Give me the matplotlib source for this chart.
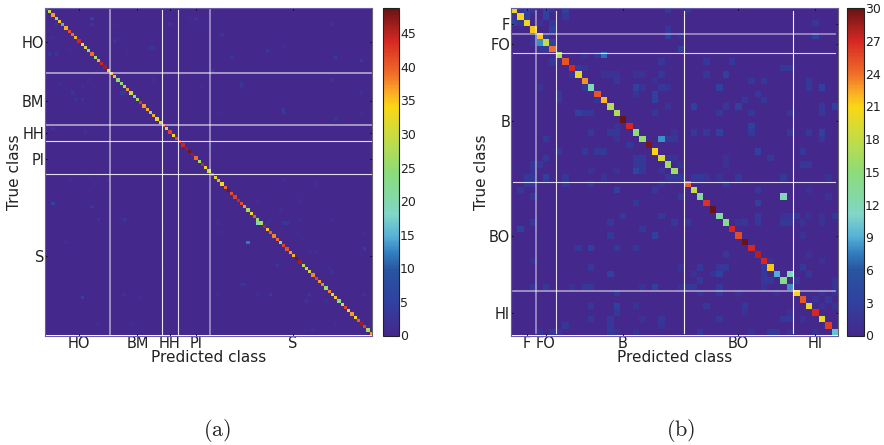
import numpy as np
import matplotlib
matplotlib.use("Agg")
import matplotlib.pyplot as plt
from matplotlib.colors import LinearSegmentedColormap

plt.rcParams['mathtext.fontset'] = 'cm'

W, H = 884, 445

# ---- (a) 101 classes
groups_a = ["HO", "BM", "HH", "PI", "S"]
sizes_a = [20, 16, 5, 10, 50]
diag_a = [43, 30, 37, 22, 35, 15, 36, 41, 39, 36, 44, 34, 30, 20, 39, 27, 36, 44, 46, 31,
          36, 35, 24, 25, 27, 37, 30, 20, 27, 43, 37, 36, 25, 36, 33, 32,
          42, 30, 42, 34, 42,
          43, 44, 46, 48, 46, 39, 27, 44, 33, 30,
          41, 32, 36, 34, 39, 48, 41, 42, 44, 41, 37, 27, 34, 40, 26, 27, 45, 35, 40, 38,
          39, 21, 42, 41, 37, 36, 48, 46, 27, 35, 30, 38, 42, 37, 38, 26, 38, 31, 35, 24,
          31, 42, 33, 37, 34, 40, 46, 42, 27, 37]
# row, col, count
off_a = [(3, 14, 6), (5, 14, 3), (5, 3, 3), (5, 21, 2), (5, 38, 3), (3, 44, 2), (3, 46, 3), (10, 21, 3),
         (14, 1, 3), (14, 3, 3), (13, 7, 2), (13, 25, 2), (12, 32, 3), (12, 33, 3), (9, 2, 2), (23, 4, 2),
         (22, 13, 2), (24, 11, 2), (26, 8, 3), (28, 9, 3), (28, 11, 3), (26, 23, 3), (26, 24, 3), (22, 33, 2),
         (24, 48, 2), (37, 2, 3), (38, 12, 2), (19, 51, 4), (53, 7, 2), (53, 16, 2), (54, 15, 2), (51, 12, 2),
         (8, 54, 3), (15, 57, 3), (13, 68, 4), (12, 73, 2), (5, 88, 3), (15, 89, 4), (16, 97, 4), (23, 60, 3),
         (24, 60, 3), (22, 88, 3), (26, 97, 2), (31, 73, 4), (32, 73, 4), (32, 53, 2), (34, 89, 3), (32, 97, 2),
         (42, 50, 2), (53, 19, 2), (51, 18, 2), (60, 2, 6), (61, 14, 3), (65, 16, 3), (65, 24, 4), (68, 36, 2),
         (72, 6, 2), (81, 36, 2), (89, 11, 6), (88, 24, 3), (89, 29, 2), (97, 16, 2), (97, 26, 2), (53, 73, 2),
         (54, 83, 2), (54, 100, 2), (59, 65, 2), (59, 78, 2), (62, 72, 2), (66, 53, 2), (65, 69, 2), (66, 68, 2),
         (66, 73, 3), (66, 74, 3), (65, 78, 2), (65, 88, 2), (69, 53, 2), (69, 98, 2), (72, 62, 12), (71, 79, 2),
         (75, 81, 2), (75, 83, 2), (74, 98, 4), (79, 71, 3), (80, 87, 2), (81, 88, 3), (85, 60, 3), (85, 61, 3),
         (88, 53, 2), (88, 65, 2), (88, 69, 4), (88, 81, 3), (88, 98, 3), (90, 80, 3), (90, 86, 2), (97, 89, 2),
         (99, 82, 2), (66, 65, 20)]

# ---- (b) 51 classes
groups_b = ["F", "FO", "B", "BO", "HI"]
sizes_b = [4, 3, 20, 17, 7]
diag_b = [20, 21, 20.5, 21.5, 21.5, 18, 24, 17, 25, 27, 20, 23, 12, 25, 22, 17, 17, 30, 27, 15,
          15.5, 29.5, 21, 19, 16, 16, 2, 24.5, 18, 13, 26.5, 30, 13, 14, 27, 25.5, 30, 27, 28, 27,
          21.5, 9, 14, 8, 20.5, 25, 20, 27, 20, 26, 10]
off_b = [(0, 1, 1.5), (0, 2, 3), (0, 3, 1.5), (0, 5, 3), (0, 6, 1.5), (0, 8, 3), (0, 24, 2), (0, 27, 2), (1, 0, 1.5), (1, 2, 3),
         (1, 5, 3), (1, 8, 2), (2, 0, 3), (2, 1, 2), (2, 4, 1.5), (2, 6, 2), (2, 47, 2), (3, 6, 3), (3, 24, 2), (4, 3, 1.5),
         (4, 5, 2), (4, 24, 3), (4, 26, 1.5), (4, 47, 3), (5, 3, 1.5), (5, 4, 8), (5, 6, 3), (6, 4, 2), (6, 5, 2), (6, 26, 3),
         (7, 11, 1.5), (7, 13, 2), (7, 14, 7), (8, 6, 2), (8, 23, 2), (8, 30, 2), (8, 34, 2), (9, 10, 2), (9, 11, 1.5),
         (9, 42, 2), (9, 43, 2), (10, 9, 2), (10, 14, 1.5), (10, 15, 1.5), (10, 16, 1.5), (10, 19, 1.5), (10, 20, 1.5), (10, 23, 2),
         (10, 30, 2), (10, 33, 3), (11, 16, 2), (11, 22, 1.5), (11, 37, 2), (11, 39, 2), (11, 46, 2), (12, 4, 1.5), (12, 11, 2),
         (12, 19, 3), (12, 20, 1.5), (12, 23, 2), (12, 24, 1.5), (12, 32, 3), (12, 46, 2), (12, 48, 3), (13, 7, 2), (13, 19, 1.5),
         (13, 22, 3), (13, 38, 2), (14, 7, 2), (14, 13, 1.5), (14, 22, 3), (14, 36, 2), (14, 39, 2), (15, 24, 1.5), (15, 28, 3),
         (15, 33, 2), (15, 35, 3), (15, 48, 2), (15, 50, 3), (16, 10, 3), (16, 11, 2), (16, 12, 2), (16, 22, 2), (16, 32, 2),
         (16, 37, 2), (16, 43, 2), (16, 48, 2), (18, 16, 1.5), (18, 37, 3), (19, 12, 2), (19, 15, 2), (19, 16, 2), (19, 25, 1.5),
         (19, 28, 2), (19, 30, 2), (19, 32, 3), (19, 37, 2), (19, 43, 2), (19, 46, 2), (19, 48, 3), (20, 5, 2), (20, 16, 1.5),
         (20, 23, 8), (20, 24, 2), (20, 25, 2), (20, 48, 2), (21, 18, 2), (22, 7, 2), (22, 11, 2), (22, 13, 2), (22, 14, 2),
         (22, 38, 3), (22, 45, 2), (23, 5, 2), (23, 19, 2), (23, 20, 2), (23, 24, 1.5), (23, 25, 1.5), (23, 33, 1.5), (23, 40, 2),
         (24, 3, 2), (24, 4, 2), (24, 19, 2), (24, 20, 2), (24, 26, 1.5), (24, 33, 1.5), (24, 45, 2), (24, 46, 2), (25, 3, 1.5),
         (25, 12, 1.5), (25, 16, 1.5), (25, 19, 4), (25, 20, 2), (25, 23, 1.5), (26, 2, 2), (26, 3, 2), (26, 5, 3), (26, 8, 2),
         (26, 14, 1.5), (26, 24, 2), (26, 25, 2), (26, 28, 2), (26, 29, 2), (26, 30, 1.5), (26, 32, 1.5), (26, 35, 2), (26, 42, 2),
         (26, 49, 1.5), (27, 2, 2), (27, 3, 2), (27, 8, 2), (27, 12, 2), (27, 23, 1.5), (27, 33, 2), (28, 1, 2), (28, 16, 3),
         (28, 22, 2), (28, 38, 2), (28, 46, 1.5), (29, 3, 2), (29, 26, 2), (29, 42, 12), (29, 49, 1.5), (30, 19, 2), (30, 38, 3),
         (32, 17, 2), (32, 23, 2), (32, 38, 2), (32, 42, 1.5), (32, 43, 1.5), (32, 44, 2), (32, 46, 1.5), (32, 48, 1.5), (32, 50, 2),
         (33, 3, 2), (33, 15, 2), (33, 25, 2), (33, 27, 2), (33, 35, 1.5), (33, 36, 2), (33, 38, 2), (33, 42, 2), (33, 43, 2),
         (33, 45, 1.5), (33, 48, 1.5), (34, 1, 3), (34, 20, 2), (35, 15, 2), (35, 22, 3), (35, 45, 1.5), (37, 10, 2), (37, 12, 3),
         (37, 16, 2), (37, 19, 2), (38, 33, 2), (38, 46, 1.5), (39, 3, 1.5), (39, 40, 1.5), (39, 48, 1.5), (40, 12, 2), (40, 26, 1.5),
         (40, 29, 2), (40, 32, 2), (40, 33, 2), (40, 39, 2), (40, 45, 2), (41, 15, 3), (41, 28, 1.5), (41, 31, 1.5), (41, 32, 3),
         (41, 39, 2), (41, 43, 12), (41, 46, 2), (42, 29, 2), (42, 39, 2), (42, 40, 2), (42, 44, 2), (42, 50, 1.5), (43, 3, 2),
         (43, 5, 2), (43, 9, 1.5), (43, 11, 2), (43, 12, 2), (43, 20, 1.5), (43, 22, 3), (43, 26, 1.5), (43, 27, 2), (43, 28, 2),
         (43, 32, 2), (43, 39, 1.5), (43, 50, 1.5), (44, 16, 2), (44, 29, 1.5), (44, 32, 2), (44, 35, 1.5), (44, 41, 1.5), (44, 48, 1.5),
         (44, 50, 1.5), (45, 47, 1.5), (45, 49, 2), (46, 12, 2), (46, 16, 3), (46, 19, 1.5), (46, 30, 2), (46, 36, 2), (46, 48, 1.5),
         (46, 50, 1.5), (47, 16, 2), (47, 36, 1.5), (47, 43, 1.5), (48, 12, 2), (48, 15, 2), (48, 20, 1.5), (48, 23, 2), (48, 32, 2),
         (48, 42, 2), (48, 43, 2), (48, 45, 1.5), (49, 8, 2), (49, 15, 2), (49, 23, 1.5), (50, 4, 1.5), (50, 6, 2), (50, 7, 1.5),
         (50, 15, 2), (50, 16, 1.5), (50, 19, 1.5), (50, 29, 2), (50, 37, 1.5), (50, 40, 2), (50, 41, 2), (50, 43, 1.5), (50, 47, 1.5)]

# colours
stops = [(0, (68, 40, 140)), (0.1, (48, 65, 160)), (0.2, (40, 85, 160)), (0.25, (50, 125, 190)), (0.3, (85, 175, 215)),
         (0.37, (130, 215, 200)), (0.4, (130, 215, 180)), (0.5, (140, 220, 120)), (0.6, (195, 220, 70)),
         (0.7, (250, 215, 20)), (0.75, (250, 165, 40)), (0.8, (240, 110, 40)), (0.9, (215, 40, 35)), (1, (105, 20, 20))]
cmap = LinearSegmentedColormap.from_list("conf", [(p, tuple(c / 255 for c in col)) for p, col in stops])


def box(x0, y0, x1, y1):
    return [x0 / W, 1 - y1 / H, (x1 - x0) / W, (y1 - y0) / H]


def panel(fig, rect, cbar_rect, groups, sizes, diag, off, vmax, cticks, vstyle, hstyle, inset, letter, letter_x):
    n = len(diag)
    mat = np.zeros((n, n))
    mat[np.arange(n), np.arange(n)] = diag
    for r, c, v in off:
        mat[r, c] = v

    ax = fig.add_axes(box(*rect))
    im = ax.imshow(mat, cmap=cmap, vmin=0, vmax=vmax, interpolation="nearest", aspect="auto")

    starts = np.cumsum([0] + sizes[:-1])
    ticks = [s + z // 2 for s, z in zip(starts, sizes)]
    ax.set_xticks(ticks, groups)
    ax.set_yticks(ticks, groups)
    ax.tick_params(direction="in", length=1.5, width=0.6, top=True, right=True, labelsize=10.5,
                   pad=0.5, labelcolor="#222222")
    ax.set_xlabel("Predicted class", fontsize=11, color="#222222", labelpad=-1)
    ax.set_ylabel("True class", fontsize=11, color="#222222", labelpad=0)
    for name, sp in ax.spines.items():
        sp.set_linewidth(0.8)
        sp.set_color("#666666" if name == "right" else "#6a5cab")

    # group separators
    for b, (lw, a) in zip(starts[1:], vstyle):
        ax.plot([b - 0.5, b - 0.5], [-0.5 + inset, n - 0.5 - inset], color="white", lw=lw, alpha=a)
    for b, (lw, a) in zip(starts[1:], hstyle):
        ax.plot([-0.5 + inset, n - 0.5 - inset], [b - 0.5, b - 0.5], color="white", lw=lw, alpha=a)
    ax.set_xlim(-0.5, n - 0.5)
    ax.set_ylim(n - 0.5, -0.5)

    cax = fig.add_axes(box(*cbar_rect))
    cb = fig.colorbar(im, cax=cax, ticks=cticks)
    cb.ax.tick_params(length=0, labelsize=9, pad=0.5, labelcolor="#222222")
    cb.outline.set_linewidth(0.8)
    cb.outline.set_edgecolor("#222222")

    fig.text(letter_x / W, 1 - 430 / H, letter, fontsize=16, ha="center", va="center", color="#222222")


fig = plt.figure(figsize=(W / 100, H / 100), dpi=100)

panel(fig, (45, 8.3, 372.3, 335.5), (382.7, 8.3, 399.3, 335.5), groups_a, sizes_a, diag_a, off_a, 48.7,
      list(range(0, 46, 5)),
      [(1.2, 0.55), (0.8, 0.9), (0.8, 0.85), (1.2, 0.5)],
      [(1.2, 0.6), (1.3, 0.55), (0.8, 0.85), (0.8, 0.85)],
      0.4, r"$\mathrm{(a)}$", 217)

panel(fig, (510.7, 8.3, 837.7, 335.5), (847.3, 8.3, 864.3, 335.5), groups_b, sizes_b, diag_b, off_b, 30,
      list(range(0, 31, 3)),
      [(1.2, 0.5), (0.8, 0.85), (0.8, 0.95), (0.8, 0.95)],
      [(1.3, 0.45), (0.8, 0.8), (0.8, 0.8), (1.2, 0.55)],
      0.4, r"$\mathrm{(b)}$", 681)

fig.savefig("out.png", dpi=100)
